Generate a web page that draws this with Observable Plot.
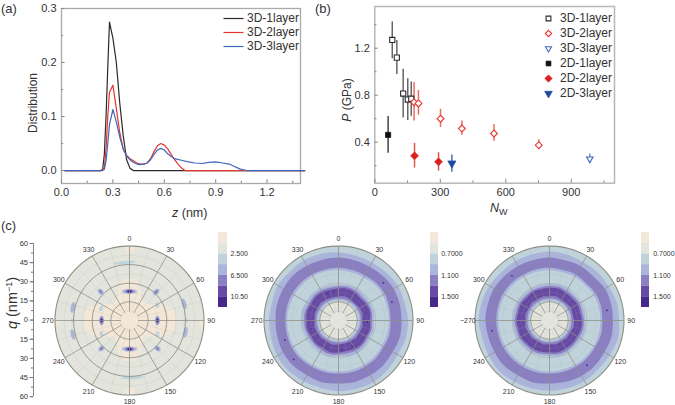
<!DOCTYPE html>
<html><head><meta charset="utf-8">
<script src="https://cdn.jsdelivr.net/npm/d3@7"></script>
<script src="https://cdn.jsdelivr.net/npm/@observablehq/plot@0.6"></script>
<style>
html,body{margin:0;padding:0;background:#fff}
#c{position:relative;width:675px;height:405px;overflow:hidden;font-family:"Liberation Sans",Arial,sans-serif;color:#333}
#c svg{position:absolute;background:transparent;overflow:visible;font-family:"Liberation Sans",Arial,sans-serif}
.t{position:absolute;white-space:nowrap;line-height:1}
.r{transform:translate(-50%,-50%) rotate(-90deg)}
</style></head><body><div id="c"></div>
<script>
// ---------- panel (a)
const zBlack=[0.02,0.23,0.24,0.25,0.26,0.27,0.28,0.30,0.32,0.34,0.36,0.38,0.40,0.42,1.42];
const dBlack=[0,0,0.002,0.03,0.10,0.19,0.275,0.245,0.20,0.125,0.065,0.02,0.004,0,0];
const zRed=[0.02,0.23,0.25,0.26,0.27,0.28,0.30,0.32,0.34,0.36,0.38,0.40,0.42,0.44,0.46,0.48,0.50,0.52,0.54,0.56,0.58,0.60,0.62,0.64,0.66,0.68,0.70,0.72,1.42];
const dRed=[0,0,0.005,0.04,0.10,0.145,0.158,0.115,0.07,0.04,0.028,0.022,0.018,0.014,0.012,0.012,0.014,0.022,0.035,0.046,0.05,0.047,0.04,0.03,0.02,0.012,0.005,0,0];
const zBlue=[0.02,0.24,0.25,0.26,0.27,0.28,0.30,0.32,0.34,0.36,0.38,0.40,0.42,0.44,0.46,0.48,0.50,0.52,0.54,0.56,0.58,0.60,0.62,0.64,0.66,0.70,0.74,0.78,0.82,0.86,0.90,0.94,0.98,1.00,1.04,1.08,1.42];
const dBlue=[0,0,0.002,0.018,0.05,0.085,0.113,0.09,0.062,0.04,0.027,0.02,0.015,0.012,0.011,0.012,0.014,0.02,0.03,0.038,0.041,0.038,0.031,0.026,0.022,0.019,0.016,0.014,0.013,0.015,0.016,0.014,0.012,0.009,0.003,0,0];
// ---------- panel (b)
const names=["3D-1layer","3D-2layer","3D-3layer","2D-1layer","2D-2layer","2D-3layer"];
const nw=[[80,101,130,151,167],[180,200,301,399,546,751],[985],[61],[182,292],[353]];
const pv=[[1.27,1.12,0.814,0.763,0.77],[0.74,0.73,0.60,0.516,0.474,0.375],[0.258],[0.462],[0.284,0.233],[0.22]];
const pLo=[[1.11,0.976,0.607,0.585,0.62],[0.58,0.63,0.525,0.46,0.407,0.335],[0.22],[0.306],[0.18,0.153],[0.145]];
const pHi=[[1.424,1.265,1.02,0.94,0.913],[0.908,0.84,0.68,0.58,0.55,0.42],[0.30],[0.618],[0.39,0.31],[0.29]];
const black="#2a2a2a",red="#e5352e",blue="#3f68b8",blueD="#1f4a9e";
const sColor=[black,red,blue,"#111","#d8201c",blueD];
const sBar=["#666","#ec6a60","#7392cf","#444","#e4554e","#4a70bd"];
const sSym=["square","diamond2","triangle","square","diamond2","triangle"];
const sFill=["#fff","#fff","#fff","#111","#d8201c",blueD];
const sRot=[0,0,180,0,0,180];
const sR=[2.9,3.1,2.4,2.9,3.5,3.0];
// ---------- panel (c)
const bandColors=["#f3e8d8","#e3e4dc","#c0d3db","#abb5dc","#8a7fc0","#674aa3","#46288a"];
const barLabels1=["2.500","6.500","10.50"];
const barLabels2=["0.7000","1.100","1.500"];
const qTicks=[-60,-45,-30,-15,0,15,30,45,60];
const spokeAngles=[0,30,60,90,120,150,180,210,240,270,300,330];
const beigeR=[34,30,20,19,26,36,37,36,26,19,20,30,33,30,20,19,27,36,37,36,26,19,20,30];
// blobs: angle, radius, tangential half-size, radial half-size, band index
const blobAngle=[0,0,0,180,180,180,270,270,270,90,90,90,355,177,315,315,43,43,225,225,135,135,293,61,245,116,73,102,283,256,270,90,0,180,92,268];
const blobR=[23.4,23.4,23.4,23,23,23,22.5,22.5,22.5,22.5,22.5,22.5,46.8,46,32.8,32.8,31.5,31.5,32,32,32,32,24.9,25.5,25,25,46,46,46.8,47,46,46,57,57,58,58];
const blobT=[6,3.6,2,6,3.6,2,4,3,1.4,4,3,1.4,9,9,2,1,2,1,2,1,2,1,2.4,2.4,2.4,2.4,4.5,4.5,4.5,4.5,1.6,1.6,4,4,2,2];
const blobN=[2,1.4,1,2,1.4,1,2,1.4,1.1,2,1.4,1.1,1.3,1.3,2.8,1.4,3.2,1.5,2.8,1.4,2.8,1.4,1.5,1.5,1.5,1.5,1.7,1.7,1.7,1.7,1,1,3,3,2,2];
const blobBand=[3,4,6,3,4,6,3,4,6,3,4,6,2,2,3,4,3,4,3,4,3,4,2,2,2,2,3,3,3,3,2,2,0,0,0,0];
// rings, every 15 degrees from 0, outer to inner
const ringAngles=d3.range(0,360,15);
const p2Rings=[
 {band:3,r:[55,54,54,54.5,55.5,55,56,56,55,56,57,57,57,56,56.5,57,57,56,56,55.5,56.5,55.5,56,55.5]},
 {band:4,r:[50.7,50.2,50,50.6,51.3,51,50.7,51.2,50.5,51,51,51.2,50.7,51.4,50.8,51.5,51.5,51,50.7,51.2,51.3,51.5,51,50.7]},
 {band:3,r:[42.4,42,42,42.8,43,42.2,41.9,42.5,42,42.7,42.7,43,42.7,43,43,43.4,43.4,43,42.7,43,43,43,42.8,42.4]},
 {band:2,r:[40.5,40,40,41,41,40.5,40.5,40.5,40.3,40.8,41,41,41,41.2,41.2,41.5,41.5,41.3,41.3,41,41,41,41,40.8]},
 {band:3,r:[29,29.4,29.8,29,29,29.2,28.5,29.2,29,29.8,30.2,29.5,29,29.8,29.5,29,29,29.2,29.7,30.2,29.5,29.8,29.5,29]},
 {band:4,r:[27.4,28,27.8,26.8,27.4,27.6,26.8,27.6,27.2,27.8,28,27.4,27.4,28,27.4,27.2,27,27.6,27.6,28,27.4,28,27.8,27.2]},
 {band:5,r:[25.8,26.4,26,25,25.8,26.4,25.4,26.2,25.6,26.4,26.2,25.4,25.8,26.4,25.4,26,25.4,26.2,25.8,26.4,25.8,26.4,26.2,25.6]},
 {band:4,r:[19.3,20,19.6,19,19.8,20,19.2,20,19.4,20,19.4,19.2,19.3,20,19.2,19.8,19.6,20,19.2,19.8,19.6,20.2,19.6,19.2]},
 {band:3,r:[17.7,17.8,18,17.8,18,18,17.8,18,17.8,18,17.8,17.8,17.7,17.8,17.8,18,18,17.8,17.8,18,18,18,17.8,17.8]},
 {band:2,r:[16.4,16.4,16.4,16.4,16.4,16.4,16.4,16.4,16.4,16.4,16.4,16.4,16.4,16.4,16.4,16.4,16.4,16.4,16.4,16.4,16.4,16.4,16.4,16.4]},
 {band:1,r:[15,15,15,15,15,15,15,15,15,15,15,15,15,15,15,15,15,15,15,15,15,15,15,15]}
];
const p3Rings=[
 {band:3,r:[55.5,55,54.2,55,55,56,56,57,56,55.5,56.5,56.5,56.5,56.5,57,57.5,56.5,56,57,56.5,56,55,55.2,55]},
 {band:4,r:[50.7,50,50.5,50,51.4,51.4,51,51.6,51,51.5,51.5,51,50.7,51.6,51,51.6,51,51,51.6,51.4,51.6,51,50.6,50.4]},
 {band:3,r:[42.4,42,42.6,42,43,43,42.5,43,42.5,42.7,42.8,42.7,42.7,43,43,43,43,42.8,42.8,43,43.2,43,42.5,42.5]},
 {band:2,r:[40.5,40.2,40.6,40.3,41,41,40.8,41,41,41,41,40.8,41,41,41,41,41,41,41,41.2,41.2,41,40.6,40.6]},
 {band:3,r:[29.5,29.8,29.5,28.8,29,29,28.8,29.7,29.5,29,29.5,29.8,29,28.8,29.7,29.5,29.8,29.5,29.7,29.5,29.8,29.5,29.7,29.3]},
 {band:4,r:[27.8,28.2,27.6,27.2,27.6,27.2,27.6,27.8,27.4,27.6,27.8,28,27.2,27.6,27.8,27.6,28,27.6,28,27.6,28,27.6,28,27.6]},
 {band:5,r:[26.4,26.6,25.8,25.4,26,25.4,26,26.2,25.6,26,26,26.4,25.6,26,26.2,26,26.6,26,26.6,26,26.6,26,26.6,26]},
 {band:4,r:[19.6,20,19.4,19.4,20,19.2,19.8,20,19.2,19.8,19.2,19.8,19.2,19.8,19.4,20,19.6,20.2,19.4,20,19.4,20.2,19.6,20]},
 {band:3,r:[18,18,18,17.8,17.8,17.8,17.8,18,17.8,17.8,17.8,17.8,17.7,17.8,17.8,18,18,18,17.8,18,18,18,18,18]},
 {band:2,r:[16.4,16.4,16.4,16.4,16.4,16.4,16.4,16.4,16.4,16.4,16.4,16.4,16.4,16.4,16.4,16.4,16.4,16.4,16.4,16.4,16.4,16.4,16.4,16.4]},
 {band:1,r:[15,15,15,15,15,15,15,15,15,15,15,15,15,15,15,15,15,15,15,15,15,15,15,15]}
];
const p2DotA=[50,71,250,229,338,350,75,93,270,254,173,152];
const p2DotR=[47.2,45.5,46,47.8,23,23,23,23,23,23,23.5,23.5];
const p3DotA=[320,80,260,140];
const p3DotR=[47,47,47,47];

const root=document.getElementById("c");
function place(svg,left,top){svg.style.left=left+"px";svg.style.top=top+"px";root.appendChild(svg);}
function label(html,left,top,size,cls){const d=document.createElement("div");d.className="t "+(cls||"");d.innerHTML=html;d.style.left=left+"px";d.style.top=top+"px";d.style.fontSize=size+"px";root.appendChild(d);}
const tickText="#333";
function box(xd,yd,xt,xm,yt,ym,fmt,fmtY,color,sw){
  const lenY=(yd[1]-yd[0])*0.022,lenX=(xd[1]-xd[0])*0.015,lenYm=lenY*.6,lenXm=lenX*.6;
  return [
    Plot.frame({stroke:color,strokeWidth:sw}),
    Plot.ruleX(xt,{y1:yd[0],y2:yd[0]+lenY,stroke:"#888",strokeWidth:1}),
    Plot.ruleX(xm,{y1:yd[0],y2:yd[0]+lenYm,stroke:"#888",strokeWidth:1}),
    Plot.ruleY(yt,{x1:xd[0],x2:xd[0]+lenX,stroke:"#888",strokeWidth:1}),
    Plot.ruleY(ym,{x1:xd[0],x2:xd[0]+lenXm,stroke:"#888",strokeWidth:1}),
    Plot.axisX(xt,{tickSize:0,tickPadding:5,tickFormat:fmt,fontSize:11,fill:tickText,label:null}),
    Plot.axisY(yt,{tickSize:0,tickPadding:5,tickFormat:fmtY,fontSize:11,fill:tickText,label:null})
  ];
}
// panel (a)
const xdA=[0,1.395],ydA=[-0.024,0.3];
const rows=(zs,ds)=>zs.map((z,i)=>({z,d:ds[i]}));
place(Plot.plot({width:320,height:205,marginLeft:61,marginRight:20,marginTop:8,marginBottom:22,
  x:{domain:xdA,axis:null},y:{domain:ydA,axis:null},
  marks:[
    ...box(xdA,ydA,[0,0.3,0.6,0.9,1.2],[0.15,0.45,0.75,1.05,1.35],[0,0.1,0.2,0.3],[0.05,0.15,0.25],d3.format(".1f"),d3.format(".1f"),"#aaa",1.3),
    Plot.line(rows(zBlack,dBlack),{x:"z",y:"d",stroke:black,strokeWidth:1.2}),
    Plot.line(rows(zRed,dRed),{x:"z",y:"d",stroke:red,strokeWidth:1.2}),
    Plot.line(rows(zBlue,dBlue),{x:"z",y:"d",stroke:blue,strokeWidth:1.2})
  ]}),0,0);
// legend (a)
const legA=names.slice(0,3);
place(Plot.plot({width:90,height:30,margin:0,x:{domain:[0,90],range:[0,90],axis:null},y:{domain:legA,range:[0,29.4],type:"point",padding:0,axis:null},
  marks:[
    Plot.link(legA,{x1:0,x2:20,y1:d=>d,y2:d=>d,stroke:(d,i)=>[black,red,blue][i],strokeWidth:1.2}),
    Plot.text(legA,{x:23.5,y:d=>d,text:d=>d,textAnchor:"start",fontSize:12,fill:tickText})
  ]}),223,17.3);
label("Distribution",33,103,12,"r");
label("<i>z</i> (nm)",172,207,12.5);
label("(a)",1,2,13);
// panel (b)
const xdB=[0,1098],ydB=[0.051,1.555];
const series=names.map((n,i)=>nw[i].map((x,j)=>({x,p:pv[i][j],lo:pLo[i][j],hi:pHi[i][j],s:i})));
const barMarks=series.map((s,i)=>Plot.ruleX(s,{x:"x",y1:"lo",y2:"hi",stroke:sBar[i],strokeWidth:1.5}));
const dotMarks=series.map((s,i)=>Plot.dot(s,{x:"x",y:"p",symbol:sSym[i],rotate:sRot[i],r:sR[i],fill:sFill[i],stroke:sColor[i],strokeWidth:i<3?1.1:0.8}));
place(Plot.plot({width:355,height:205,marginLeft:54.3,marginRight:61,marginTop:6,marginBottom:22.3,
  symbol:{type:"identity"},
  x:{domain:xdB,axis:null},y:{domain:ydB,axis:null},
  marks:[
    ...box(xdB,ydB,[0,300,600,900],[150,450,750,1050],[0.4,0.8,1.2],[0.2,0.6,1.0,1.4],d3.format("d"),d3.format(".1f"),"#b8b8b8",1.5),
    ...barMarks,...dotMarks
  ]}),320,0);
// legend (b)
place(Plot.plot({width:90,height:75,margin:0,symbol:{type:"identity"},x:{domain:[0,90],range:[0,90],axis:null},y:{domain:names,range:[0,75],type:"point",padding:0,axis:null},
  marks:names.map((n,i)=>Plot.dot([n],{x:0,y:d=>d,symbol:sSym[i],rotate:sRot[i],r:sR[i]*.93,fill:sFill[i],stroke:sColor[i],strokeWidth:i<3?1.1:0.8}))
    .concat([Plot.text(names,{x:11.5,y:d=>d,text:d=>d,textAnchor:"start",fontSize:12,fill:tickText})])
  }),547.7,18.3);
label("<i>P</i> (GPa)",347,100,12,"r");
label("<i>N</i><sub style='font-size:9px;vertical-align:-3px'>W</sub>",490,202,12.5);
label("(b)",315,2,13);
// panel (c)
const rad=a=>a*Math.PI/180;
const pt=(a,r)=>({x:r*Math.sin(rad(a)),y:r*Math.cos(rad(a))});
const circle=(rv)=>d3.range(0,360,3).map(a=>pt(a,rv));
const ringPts=(rs)=>rs.map((r,i)=>pt(ringAngles[i],r));
const dom=[-76.5,76.5];
function ringMark(r){return Plot.line(ringPts(r.r),{x:"x",y:"y",fill:bandColors[r.band],stroke:"none",curve:"catmull-rom-closed"});}
function polar(cx,cy,under,over,tag270,majorOpacity){
  const minor=[7.5,22.5,37.5,52.5],major=[15,30,45,60];
  const minorSp=d3.range(0,360,30).map(a=>a+15);
  const labels=spokeAngles.map(a=>({...pt(a,65.8),t:a===270?tag270:String(a)}));
  const marks=[
    ...under,
    ...minor.map(r=>Plot.line(circle(r),{x:"x",y:"y",stroke:"#9aa0a5",strokeOpacity:.25,strokeWidth:.6,curve:"linear-closed"})),
    Plot.link(minorSp,{x1:a=>pt(a,7).x,y1:a=>pt(a,7).y,x2:a=>pt(a,60).x,y2:a=>pt(a,60).y,stroke:"#9aa0a5",strokeOpacity:.25,strokeWidth:.6}),
    ...major.map((r,i)=>Plot.line(circle(r),{x:"x",y:"y",stroke:"#8f8f88",strokeOpacity:majorOpacity[i],strokeWidth:r===60?1.1:.9,curve:"linear-closed"})),
    Plot.link(spokeAngles,{x1:a=>pt(a,6.5).x,y1:a=>pt(a,6.5).y,x2:a=>pt(a,60).x,y2:a=>pt(a,60).y,stroke:"#8f8f88",strokeOpacity:.85,strokeWidth:.9}),
    ...over,
    Plot.text(labels,{x:"x",y:"y",text:"t",fontSize:7,fill:"#333"})
  ];
  place(Plot.plot({width:190,height:190,margin:0,x:{domain:dom,range:[0,190],axis:null},y:{domain:dom,range:[190,0],axis:null},marks}),cx-95,cy-95);
}
function colorbar(left,bw,labelsTxt,labelX){
  const idx=d3.range(7);
  place(Plot.plot({width:60,height:75,margin:0,x:{domain:[0,60],range:[0,60],axis:null},y:{domain:[0,7],range:[0,75],axis:null},
    marks:[
      Plot.rect(idx,{x1:0,x2:bw,y1:d=>d,y2:d=>d+1,fill:d=>bandColors[d]}),
      Plot.text(labelsTxt,{x:labelX,y:(d,i)=>2+2*i,text:d=>d,textAnchor:"start",fontSize:7,fill:"#333"})
    ]}),left,232);
}
function blobPts(i){
  return d3.range(0,360,30).map(t=>{
    const c=pt(blobAngle[i],blobR[i]),a=rad(blobAngle[i]);
    const tu=blobT[i]*Math.cos(rad(t)),nu=blobN[i]*Math.sin(rad(t));
    return {x:c.x+tu*Math.cos(a)+nu*Math.sin(a),y:c.y-tu*Math.sin(a)+nu*Math.cos(a)};
  });
}
const discMark=(band)=>Plot.line(circle(60),{x:"x",y:"y",fill:bandColors[band],stroke:"none",curve:"linear-closed"});
const beigePts=beigeR.map((r,i)=>pt(ringAngles[i],r));
const blobMarks=blobAngle.map((_,i)=>Plot.line(blobPts(i),{x:"x",y:"y",fill:bandColors[blobBand[i]],stroke:"none",curve:"catmull-rom-closed"}));
polar(129,319.7,[discMark(1),Plot.line(beigePts,{x:"x",y:"y",fill:bandColors[0],stroke:"none",curve:"catmull-rom-closed"}),...blobMarks],
  [Plot.line(circle(7),{x:"x",y:"y",fill:bandColors[0],stroke:"none",curve:"linear-closed"})],"270",[1,1,1,1]);
const dots=(as,rs)=>Plot.dot(as.map((a,i)=>pt(a,rs[i])),{x:"x",y:"y",r:.9,fill:bandColors[6]});
const ringOpacity=[1,.35,.12,1];
polar(338,320.3,[discMark(2),...p2Rings.map(ringMark),dots(p2DotA,p2DotR)],[Plot.dot([pt(0,0)],{x:"x",y:"y",r:8,fill:bandColors[1]})],"270",ringOpacity);
polar(549.3,320.3,[discMark(2),...p3Rings.map(ringMark),dots(p3DotA,p3DotR)],[Plot.dot([pt(0,0)],{x:"x",y:"y",r:8,fill:bandColors[1]})],"\u2212270",ringOpacity);
colorbar(218,9,barLabels1,12);
colorbar(430,8,barLabels2,10.7);
colorbar(641,8,barLabels2,11.7);
// q axis
const yq=[-60,60];
place(Plot.plot({width:36,height:153.2,marginLeft:33,marginRight:3,marginTop:0,marginBottom:0,
  x:{domain:[0,1],axis:null},y:{domain:yq,axis:null},
  marks:[
    Plot.ruleX([0],{stroke:"#777",strokeWidth:.9}),
    Plot.axisY(d3.range(-60,61,7.5),{tickSize:2,text:null,stroke:"#777",label:null}),
    Plot.axisY(qTicks,{tickSize:3.5,tickPadding:2,tickFormat:d=>Math.abs(d),fontSize:7.5,fill:"#333",stroke:"#777",label:null})
  ]}),0,243.3);
label("<i>q</i> (nm<sup style='font-size:9px;vertical-align:5px'>\u22121</sup>)",12,303,14.5,"r");
label("(c)",1,219,13);
</script></body></html>
